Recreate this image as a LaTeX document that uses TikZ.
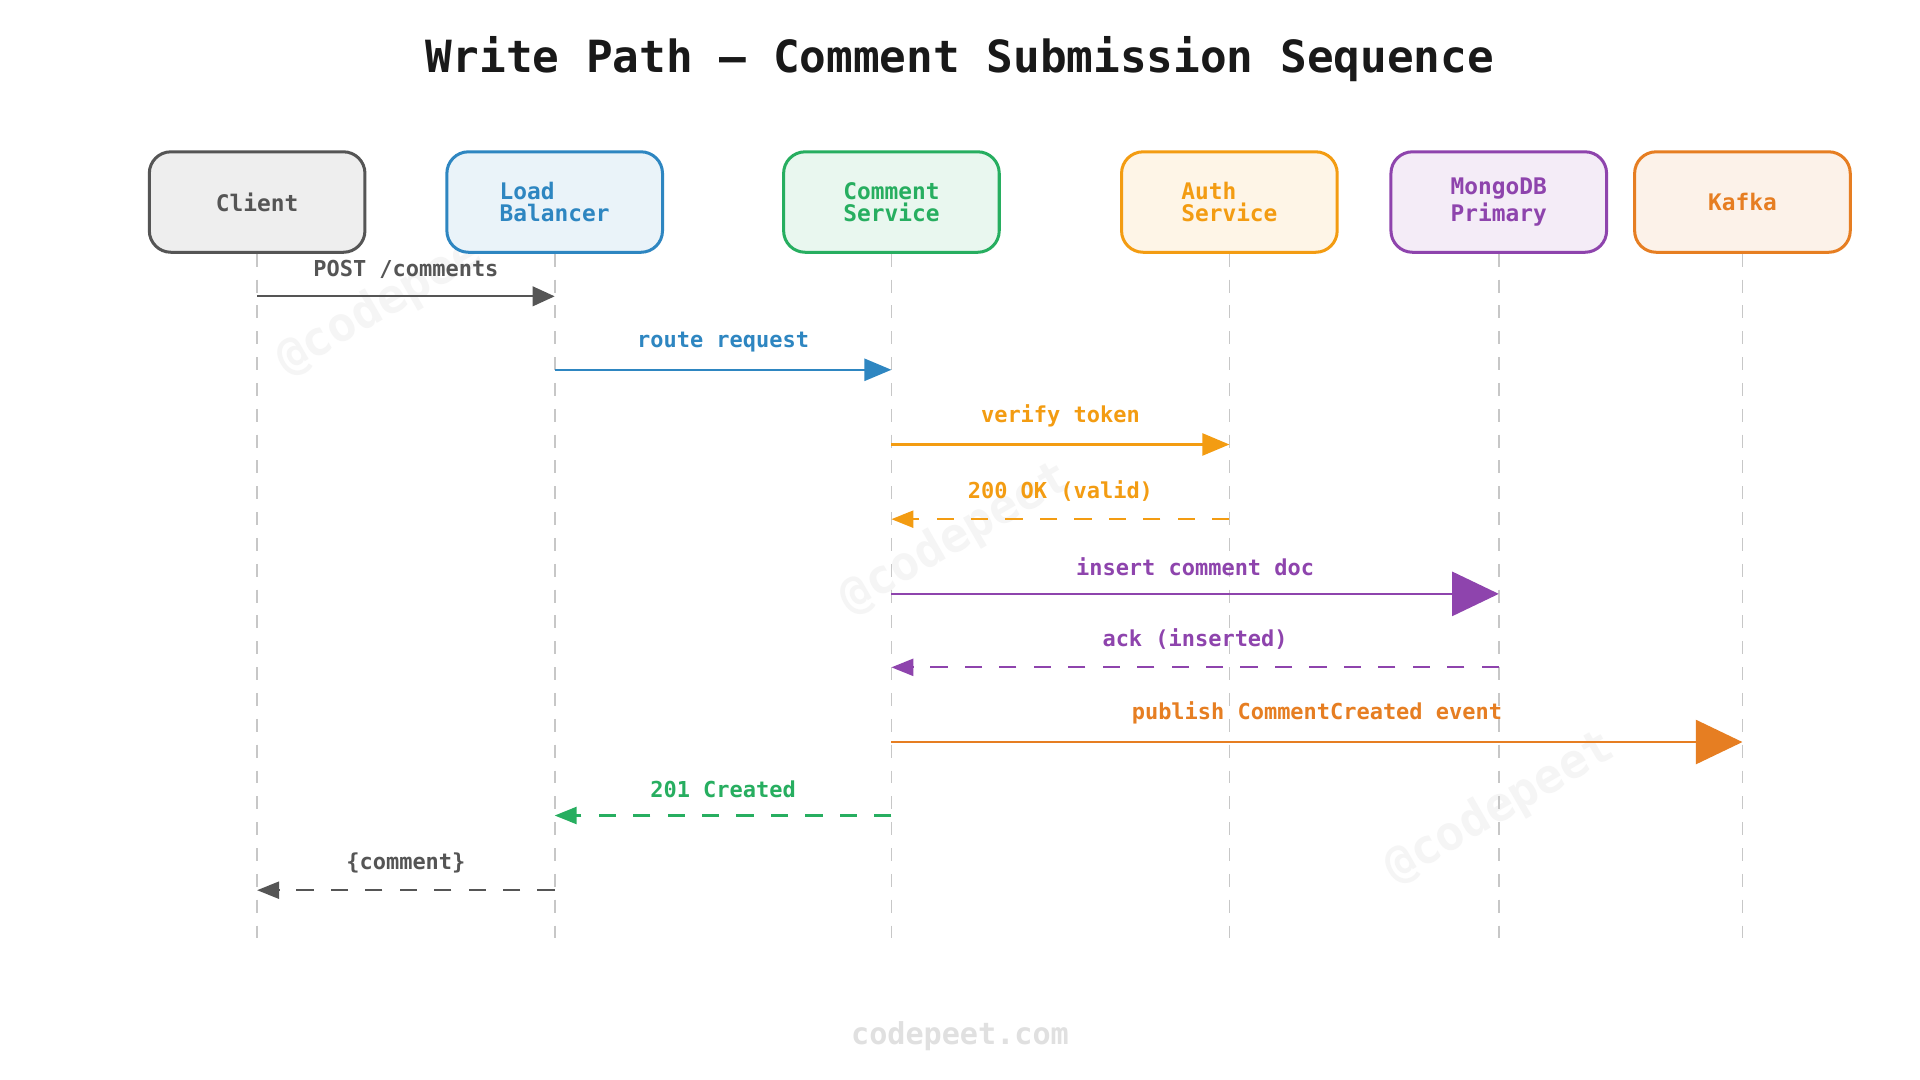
\documentclass[tikz,border=0pt]{standalone}
\usepackage{fontspec}
\setmonofont{DejaVu Sans Mono}
\usetikzlibrary{arrows.meta}
\definecolor{cgray}{HTML}{555555}
\definecolor{cblue}{HTML}{2E86C1}
\definecolor{cgreen}{HTML}{27AE60}
\definecolor{cyel}{HTML}{F39C12}
\definecolor{cpur}{HTML}{8E44AD}
\definecolor{corg}{HTML}{E67E22}
\tikzset{
 actor/.style={draw=#1,fill=#1!10,line width=0.7pt,rounded corners=5pt,minimum width=1.76cm,minimum height=0.82cm,text=#1,font=\ttfamily\bfseries\fontsize{5.3}{5.1}\selectfont,align=left},
 life/.style={draw=black!22,dash pattern=on 3pt off 3pt,line width=0.4pt},
 msg/.style={draw=#1,line width=0.5pt},
 dsh/.style={dash pattern=on 4pt off 4pt},
 lbl/.style={text=#1,font=\ttfamily\bfseries\fontsize{5.1}{5.1}\selectfont,above=0.5pt},
 wm/.style={text=black!4,font=\ttfamily\bfseries\fontsize{11}{11}\selectfont,rotate=30}
}
\begin{document}
\begin{tikzpicture}[x=0.01cm,y=-0.01cm]
\useasboundingbox[fill=white] (0,0) rectangle (1568,882);
\node[wm] at (320,245) {@codepeet};
\node[wm] at (780,440) {@codepeet};
\node[wm] at (1225,660) {@codepeet};
\node[font=\ttfamily\bfseries\fontsize{10.3}{10.3}\selectfont,text=black!90] (title) at (784,48) {Write Path — Comment Submission Sequence};
\foreach \n/\x/\c/\t in {cl/210/cgray/Client, lb/453/cblue/{Load\\Balancer}, cs/728/cgreen/{Comment\\Service}, au/1004/cyel/{Auth\\Service}, mg/1224/cpur/{MongoDB\\Primary}, kf/1423/corg/Kafka}{
 \node[actor=\c] (\n) at (\x,165) {\t};
 \coordinate (\n e) at (\x,772);
 \draw[life] (\n.south) -- (\n e);
 \foreach \y/\k in {242/1,302/2,363/3,424/4,485/5,545/6,606/7,666/8,727/9}{\coordinate (\n\k) at (\x,\y);}
}
\draw[msg=cgray,-{Triangle[length=0.18cm,width=0.16cm]}] (cl1) -- node[lbl=cgray]{POST /comments} (lb1);
\draw[msg=cblue,-{Triangle[length=0.22cm,width=0.18cm]}] (lb2) -- node[lbl=cblue]{route request} (cs2);
\draw[msg=cyel,-{Triangle[length=0.22cm,width=0.18cm]}] (cs3) -- node[lbl=cyel]{verify token} (au3);
\draw[msg=cyel,dsh,-{Triangle[length=0.18cm,width=0.14cm]}] (au4) -- node[lbl=cyel]{200 OK (valid)} (cs4);
\draw[msg=cpur,-{Triangle[length=0.38cm,width=0.36cm]}] (cs5) -- node[lbl=cpur]{insert comment doc} (mg5);
\draw[msg=cpur,dsh,-{Triangle[length=0.18cm,width=0.14cm]}] (mg6) -- node[lbl=cpur]{ack (inserted)} (cs6);
\draw[msg=corg,-{Triangle[length=0.38cm,width=0.36cm]}] (cs7) -- node[lbl=corg]{publish CommentCreated event} (kf7);
\draw[msg=cgreen,dsh,-{Triangle[length=0.18cm,width=0.14cm]}] (cs8) -- node[lbl=cgreen]{201 Created} (lb8);
\draw[msg=cgray,dsh,-{Triangle[length=0.18cm,width=0.14cm]}] (lb9) -- node[lbl=cgray]{\{comment\}} (cl9);
\node[font=\ttfamily\bfseries\fontsize{7}{7}\selectfont,text=black!12] (foot) at (784,846) {codepeet.com};
\end{tikzpicture}
\end{document}
